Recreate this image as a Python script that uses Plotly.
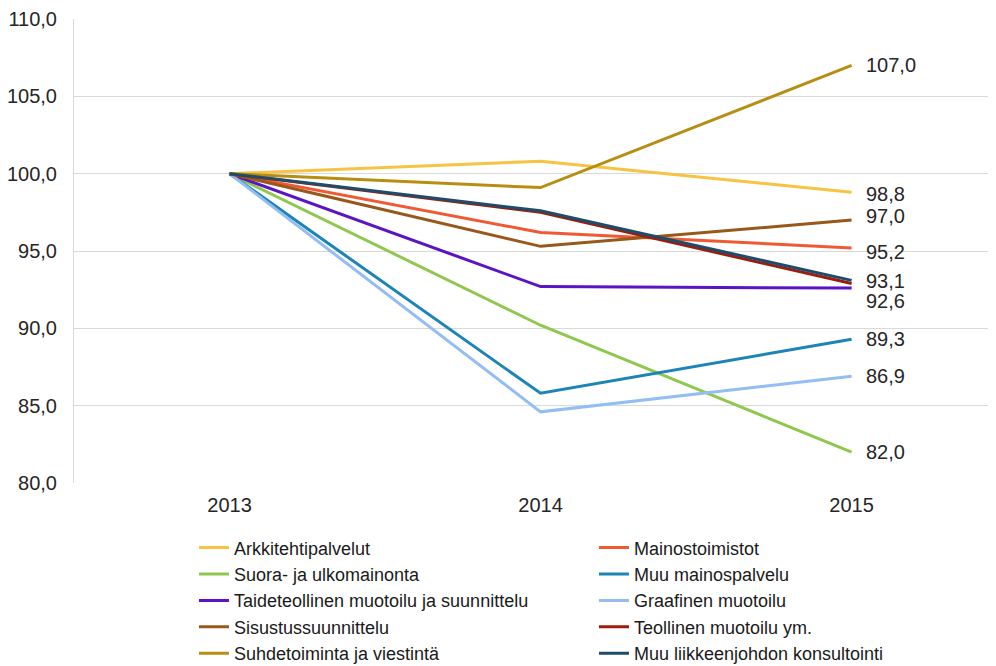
import plotly.graph_objects as go

years = ["2013", "2014", "2015"]

series_names = [
    "Arkkitehtipalvelut",
    "Mainostoimistot",
    "Suora- ja ulkomainonta",
    "Muu mainospalvelu",
    "Taideteollinen muotoilu ja suunnittelu",
    "Graafinen muotoilu",
    "Sisustussuunnittelu",
    "Teollinen muotoilu ym.",
    "Suhdetoiminta ja viestintä",
    "Muu liikkeenjohdon konsultointi",
]

arkkitehti = [100.0, 100.8, 98.8]
mainostoimistot = [100.0, 96.2, 95.2]
suora = [100.0, 90.2, 82.0]
muu_mainos = [100.0, 85.8, 89.3]
taideteollinen = [100.0, 92.7, 92.6]
graafinen = [100.0, 84.6, 86.9]
sisustus = [100.0, 95.3, 97.0]
teollinen = [100.0, 97.5, 92.9]
suhdetoiminta = [100.0, 99.1, 107.0]
muu_liikkeenjohto = [100.0, 97.6, 93.1]

series_values = [arkkitehti, mainostoimistot, suora, muu_mainos, taideteollinen,
                 graafinen, sisustus, teollinen, suhdetoiminta, muu_liikkeenjohto]

colors = ["#f6c343", "#ef5a34", "#8fc84e", "#1c84b7", "#5a14c4",
          "#93bdf3", "#97581a", "#9c1d0d", "#b88e12", "#1d4d6b"]

# which series get an end label, and vertical pixel nudge for overlap
show_label = [True, True, True, True, True, True, True, False, True, True]
label_shift = [-2, -4, 0, 0, -13, 0, 4, 0, 0, -1]

FONT = "Liberation Sans, Arial, sans-serif"

fig = go.Figure()
for name, vals, col in zip(series_names, series_values, colors):
    fig.add_trace(go.Scatter(
        x=years, y=vals, name=name, mode="lines",
        line=dict(color=col, width=3),
    ))

last = len(years) - 1
for vals, show, shift in zip(series_values, show_label, label_shift):
    if not show:
        continue
    fig.add_annotation(
        x=last, y=vals[-1], xref="x", yref="y",
        text=f"{vals[-1]:.1f}".replace(".", ","),
        showarrow=False, xanchor="left", yanchor="middle",
        xshift=12, yshift=shift,
        font=dict(family=FONT, size=20, color="#262626"),
    )

fig.update_layout(
    width=996, height=666,
    margin=dict(l=66, r=0, t=11, b=191, autoexpand=False),
    paper_bgcolor="white", plot_bgcolor="white",
    separators=",.",
    showlegend=True,
    legend=dict(
        orientation="h", x=0.129, y=-0.1, xanchor="left", yanchor="top",
        entrywidth=355, font=dict(family=FONT, size=18, color="#1a1a1a"),
        traceorder="normal", itemwidth=30,
    ),
    xaxis=dict(
        type="category", range=[-0.5, 2.49],
        showgrid=False, showline=False, ticks="",
        tickfont=dict(family=FONT, size=20, color="#262626"),
        ticklabelstandoff=8,
    ),
    yaxis=dict(
        range=[80, 110], dtick=5, tickformat=".1f",
        showgrid=True, gridcolor="#d9d9d9", gridwidth=1,
        showline=True, linecolor="#d9d9d9", linewidth=1,
        zeroline=False, ticks="",
        tickfont=dict(family=FONT, size=20, color="#262626"),
        ticklabelstandoff=12,
    ),
)

fig.write_html("out.html")
